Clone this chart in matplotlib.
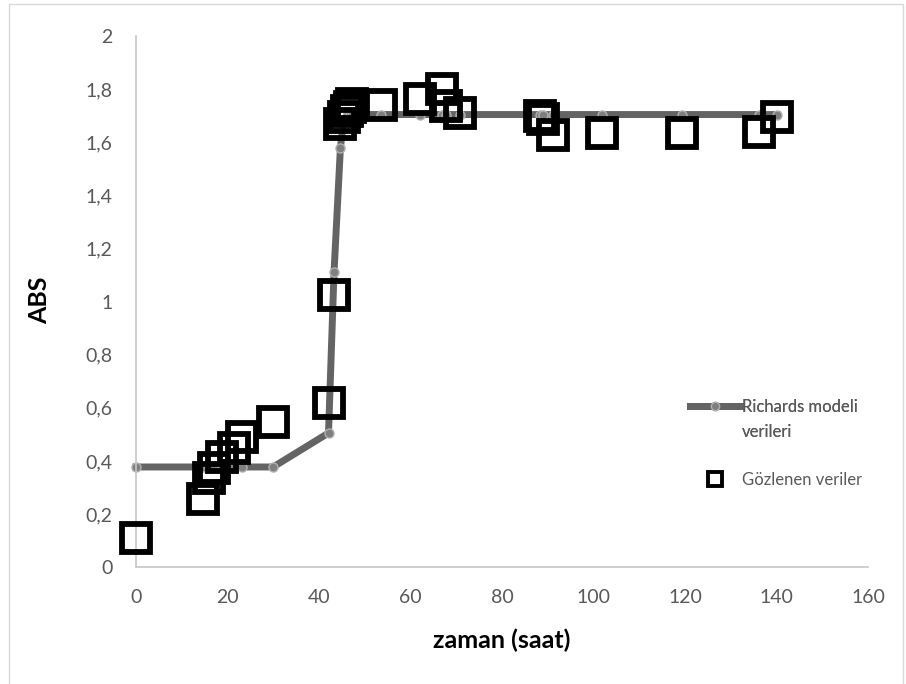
import matplotlib
matplotlib.use("Agg")
import matplotlib.pyplot as plt
from matplotlib.lines import Line2D
from matplotlib.patches import Rectangle
from matplotlib.ticker import FuncFormatter, MultipleLocator

# ---------------- Daten ------------------------------------------------------
# Zeitpunkte der Messungen (Stunden)
zaman = [0, 14.6, 16.0, 17.1, 18.9, 21.4, 23.2, 30.0, 42.1, 43.3, 44.7, 45.4,
         46.1, 46.8, 47.3, 53.5, 62.2, 66.8, 67.8, 70.8, 88.3, 89.0, 91.2,
         101.9, 119.3, 136.1, 140.2]
# Gemessene Absorbanz
abs_gozlenen = [0.11, 0.256, 0.335, 0.372, 0.413, 0.448, 0.491, 0.547, 0.618,
                1.024, 1.668, 1.695, 1.717, 1.733, 1.744, 1.740, 1.763, 1.80,
                1.737, 1.71, 1.70, 1.69, 1.627, 1.635, 1.635, 1.64, 1.694]
# Richards-Modell an denselben Zeitpunkten
zaman_model = list(zaman)
abs_model = [0.377, 0.377, 0.377, 0.377, 0.377, 0.377, 0.377, 0.377, 0.505,
             1.11, 1.58, 1.68, 1.70, 1.705, 1.705, 1.705, 1.705, 1.705, 1.705,
             1.705, 1.705, 1.705, 1.705, 1.705, 1.705, 1.705, 1.705]

plt.rcParams["font.family"] = ["Lato", "DejaVu Sans"]

fig = plt.figure(figsize=(9.06, 6.84), dpi=100)
ax = fig.add_axes([0.150, 0.171, 0.808, 0.776])

# Modellkurve
ax.plot(zaman_model, abs_model, color="#646464", linewidth=5,
        marker="o", markersize=6.5, markerfacecolor="#7f7f7f",
        markeredgecolor="#b0b0b0", markeredgewidth=1, clip_on=False, zorder=2)
# Messwerte als offene Quadrate
ax.plot(zaman, abs_gozlenen, linestyle="none", marker="s", markersize=19.5,
        markerfacecolor="none", markeredgecolor="black", markeredgewidth=4.2,
        clip_on=False, zorder=3)

ax.set_xlim(0, 160)
ax.set_ylim(0, 2)
ax.xaxis.set_major_locator(MultipleLocator(20))
ax.yaxis.set_major_locator(MultipleLocator(0.2))
ax.yaxis.set_major_formatter(FuncFormatter(
    lambda v, p: ("%.1f" % v).rstrip("0").rstrip(".").replace(".", ",")))

for s in ["top", "right"]:
    ax.spines[s].set_visible(False)
for s in ["left", "bottom"]:
    ax.spines[s].set_color("#c6c6c6")
    ax.spines[s].set_linewidth(1.2)
ax.tick_params(length=0, labelsize=14, labelcolor="#595959")
ax.tick_params(axis="x", pad=16)
ax.tick_params(axis="y", pad=17)

ax.set_xlabel("zaman (saat)", fontsize=18, fontweight="bold")
ax.xaxis.set_label_coords(0.5, -0.138)
ax.xaxis.label.set_va("center")
ax.set_ylabel("ABS", fontsize=18, fontweight="bold")
ax.yaxis.set_label_coords(-0.131, 0.503)
ax.yaxis.label.set_va("center")

# Legende (zweizeiliger Eintrag fuer das Modell, darunter die Messwerte)
h_model = Line2D([], [], color="#646464", linewidth=5, marker="o",
                 markersize=6, markerfacecolor="#7f7f7f",
                 markeredgecolor="#b0b0b0")
h_leer = Line2D([], [], linestyle="none")
h_obs = Line2D([], [], linestyle="none", marker="s", markersize=10,
               markerfacecolor="none", markeredgecolor="black",
               markeredgewidth=2.8)
leg1 = fig.legend([h_model, h_leer], ["Richards modeli", "verileri"],
                  loc="upper left", bbox_to_anchor=(0.7616, 0.4167),
                  frameon=False, fontsize=12, handlelength=3.0,
                  handletextpad=0.1, borderpad=0, borderaxespad=0,
                  labelspacing=0.55, labelcolor="#595959")
fig.add_artist(leg1)
fig.legend([h_obs], ["Gözlenen veriler"], loc="upper left",
           bbox_to_anchor=(0.7616, 0.310), frameon=False, fontsize=12,
           handlelength=3.0, handletextpad=0.1, borderpad=0, borderaxespad=0,
           labelcolor="#595959")

# Rahmen um den Diagrammbereich
fig.add_artist(Rectangle((9 / 906, -0.02), (903 - 9) / 906, 1.02 - 4 / 684,
                         transform=fig.transFigure, fill=False,
                         edgecolor="#d9d9d9", linewidth=1))

fig.savefig("out.png", dpi=100)
